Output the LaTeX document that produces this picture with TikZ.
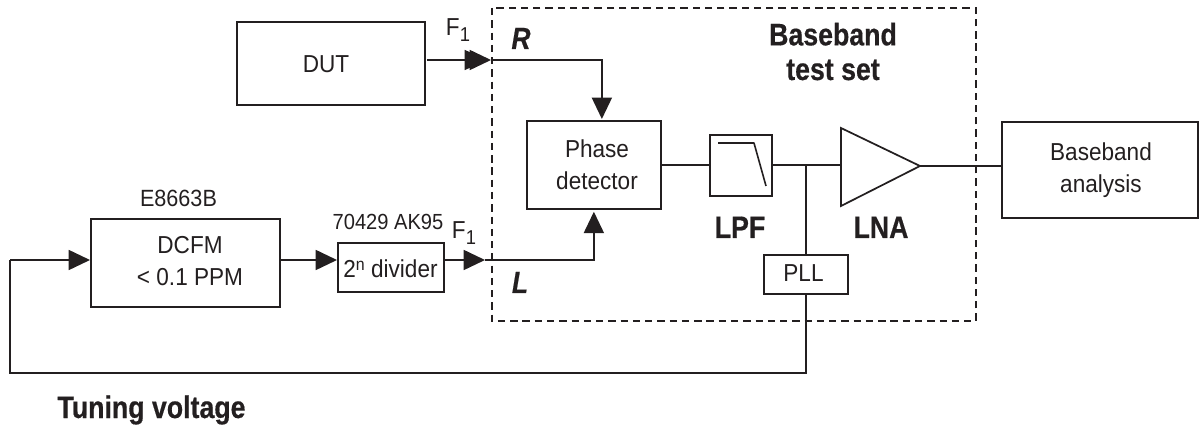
\documentclass[tikz,border=0pt]{standalone}
\usepackage{fontspec}
\setmainfont[FakeStretch=0.92]{Liberation Sans}
\newfontfamily\hd[FakeStretch=0.86,BoldFeatures={FakeBold=0.5},BoldItalicFeatures={FakeBold=0.5}]{Liberation Sans}
\usetikzlibrary{arrows.meta,calc}
\definecolor{ink}{HTML}{231F20}
\newcommand{\lowone}{\raisebox{-4.5pt}{\fontsize{15pt}{15pt}\selectfont 1}}
\newcommand{\upn}{\raisebox{5.5pt}{\fontsize{13pt}{13pt}\selectfont n}}
\tikzset{
  x=0.75pt,y=-0.75pt,
  every node/.style={text=ink,font=\fontsize{18.4pt}{24pt}\selectfont,inner sep=0pt,align=center},
  blk/.style={draw=ink,line width=1.3pt,fill=white},
  wire/.style={draw=ink,line width=1.3pt,line join=miter},
  tip/.style={wire,-{Triangle[length=16pt,width=15pt,fill=ink]}},
  txt/.style={anchor=base},
  head/.style={anchor=base,font=\hd\fontsize{23.3pt}{26pt}\selectfont\bfseries},
  headit/.style={anchor=base,font=\hd\fontsize{23pt}{26pt}\selectfont\bfseries\itshape},
  small/.style={anchor=base,font=\fontsize{17.6pt}{20pt}\selectfont},
  small2/.style={anchor=base,font=\fontsize{16.4pt}{20pt}\selectfont},
}
\newcommand{\boxat}[5]{\node[blk,minimum width=#4*0.75pt,minimum height=#5*0.75pt,anchor=north west] (#1) at (#2,#3) {};}
\begin{document}
\begin{tikzpicture}
\useasboundingbox (0,0) rectangle (1199,427);
% dashed frame
\coordinate (fa) at (492,8); \coordinate (fb) at (976,321);
\draw[draw=ink,line width=1.3pt,dash pattern=on 5.5pt off 3.7pt] (fa) rectangle (fb);
% boxes
\boxat{dut}{236}{21}{188}{83}
\boxat{phase}{526}{120}{134}{88}
\boxat{lpf}{709}{134}{62}{61}
\boxat{base}{1001}{121}{196}{96}
\boxat{pll}{763}{254}{84}{39}
\boxat{dcfm}{90}{218}{189}{88}
\boxat{div}{337}{242}{106}{49}
% box texts
\node[txt] (dutT) at (326,73) {DUT};
\node[txt] (phaseT) at (597,190) {\fontsize{18.4pt}{22.5pt}\selectfont Phase\\\fontsize{18.4pt}{22.5pt}\selectfont detector};
\node[txt] (baseT) at (1101,193) {Baseband\\analysis};
\node[txt] (pllT) at (803.5,282) {PLL};
\node[txt] (dcfmT) at (190,286) {DCFM\\< 0.1 PPM};
\node[txt] (divT) at (390.5,278) {2\upn{} divider};
% LNA
\coordinate (lnaA) at (841,128); \coordinate (lnaB) at (841,206); \coordinate (lnaC) at (920,166);
\coordinate (lnaIn) at (841,165);
\draw[blk] (lnaA) -- (lnaC) -- (lnaB) -- cycle;
% lpf curve
\draw[draw=ink,line width=1.2pt,line join=round] (718,143) -- (754,143) -- (766,186);
% connectors
\coordinate (rs) at (427,60); \coordinate (r1) at (486,60); \coordinate (r2) at (491,60);
\coordinate (rc) at ($(phase.north)+(8,-1)$);
\draw[tip] (rs) -- (r1);
\draw[tip] (rs) -- (r2);
\draw[tip] (r2) -| (rc);
\coordinate (lc) at ($(phase.south)+(0,2)$);
\coordinate (ls) at (485,260);
\draw[tip] (div.east |- ls) -- (ls);
\draw[tip] (ls) -| (lc);
\coordinate (j) at (806,165);
\draw[wire] (phase.east |- j) -- (lpf.west |- j);
\draw[wire] (lpf.east |- j) -- (lnaIn);
\draw[wire] (lnaC) -- (base.west |- lnaC);
\draw[wire] (j) -- (j |- pll.north);
\coordinate (fbk) at (806,373); \coordinate (fbl) at (10,373); \coordinate (fbu) at (10,260);
\draw[wire] (j |- pll.south) -- (fbk) -- (fbl) -- (fbu);
\draw[tip] (fbu) -- (dcfm.west |- fbu);
\draw[tip] (dcfm.east |- fbu) -- (div.west |- fbu);
% labels
\node[txt] (f1a) at (458,36) {F\lowone};
\node[txt] (f1b) at (464,239) {F\lowone};
\node[small] (e86) at (178.5,207) {E8663B};
\node[small2] (ak) at (388,230) {70429 AK95};
\node[headit] (rl) at (521,49) {R};
\node[headit] (ll) at (520,293) {L};
\node[head] (bt) at (833,80) {Baseband\\test set};
\node[head] (lpfl) at (740,238) {LPF};
\node[head] (lnal) at (881,238) {LNA};
\node[head] (tv) at (151.5,418) {Tuning voltage};
\end{tikzpicture}
\end{document}
